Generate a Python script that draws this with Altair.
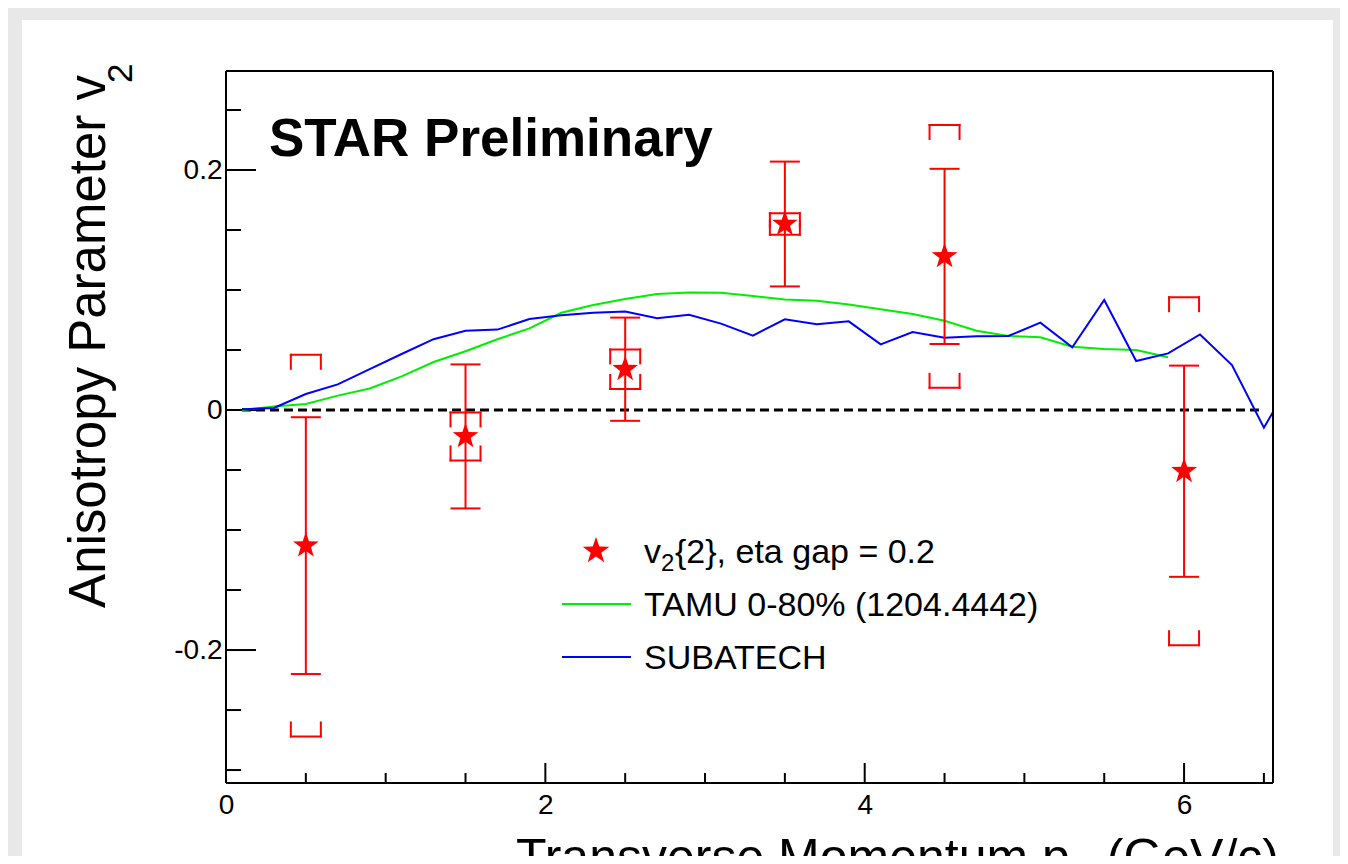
import math
import altair as alt
import pandas as pd

# ---------------- data ----------------
pt = [0.5, 1.5, 2.5, 3.5, 4.5, 6.0]
v2 = [-0.113, -0.022, 0.034, 0.155, 0.128, -0.051]
stat_err = [0.107, 0.060, 0.043, 0.052, 0.073, 0.088]
sys_err = [0.159, 0.020, 0.0165, 0.009, 0.1095, 0.145]

tamu_pt = [0.1, 0.3, 0.5, 0.7, 0.9, 1.1, 1.3, 1.5, 1.7, 1.9,
           2.1, 2.3, 2.5, 2.7, 2.9, 3.1, 3.3, 3.5, 3.7, 3.9,
           4.1, 4.3, 4.5, 4.7, 4.9, 5.1, 5.3, 5.5, 5.7, 5.9]
tamu_v2 = [0.000, 0.003, 0.005, 0.012, 0.018, 0.028, 0.040, 0.049, 0.059, 0.068,
           0.081, 0.0875, 0.0925, 0.0967, 0.098, 0.0978, 0.095, 0.092, 0.091, 0.088,
           0.084, 0.080, 0.0744, 0.066, 0.0617, 0.0606, 0.0528, 0.0508, 0.050, 0.0439]

sub_pt = [0.1, 0.3, 0.5, 0.7, 0.9, 1.1, 1.3, 1.5, 1.7, 1.9,
          2.1, 2.3, 2.5, 2.7, 2.9, 3.1, 3.3, 3.5, 3.7, 3.9,
          4.1, 4.3, 4.5, 4.7, 4.9, 5.1, 5.3, 5.5, 5.7, 5.9,
          6.1, 6.3, 6.5, 6.7]
sub_v2 = [0.0006, 0.0017, 0.0133, 0.0214, 0.034, 0.0467, 0.059, 0.066, 0.067, 0.0758,
          0.079, 0.081, 0.082, 0.0764, 0.0794, 0.072, 0.062, 0.0756, 0.0714, 0.0739,
          0.0547, 0.065, 0.0603, 0.0614, 0.0617, 0.0728, 0.0522, 0.0917, 0.0408, 0.0472,
          0.063, 0.0375, -0.0147, 0.031]

zero_line_pt = [0.1, 6.5]

x_major = [0, 2, 4, 6]
x_minor = [0.5, 1, 1.5, 2.5, 3, 3.5, 4.5, 5, 5.5, 6.5]
x_labels = ["0", "2", "4", "6"]
y_major = [-0.2, 0, 0.2]
y_minor = [-0.3, -0.25, -0.15, -0.1, -0.05, 0.05, 0.1, 0.15, 0.25]
y_labels = ["-0.2", "0", "0.2"]

x_domain = [0, 6.557]
y_domain = [-0.3108, 0.2825]

title_x_main = "Transverse Momentum p"
title_x_sub = "T"
title_x_tail = " (GeV/c)"
title_y_main = "Anisotropy Parameter v"
title_y_sub = "2"
star_label = "STAR Preliminary"
leg_data_main = "v"
leg_data_sub = "2"
leg_data_tail = "{2}, eta gap = 0.2"
leg_tamu = "TAMU 0-80% (1204.4442)"
leg_sub = "SUBATECH"

# ---------------- styling ----------------
W, H = 1047, 712
FONT = "Liberation Sans"
RED, GREEN, BLUE = "#ff0000", "#00ee00", "#0000ff"

pts = []
for k in range(10):
    r = 1.0 if k % 2 == 0 else 0.40
    a = math.radians(-90 + 36 * k)
    pts.append(f"{r * math.cos(a):.4f},{r * math.sin(a):.4f}")
STAR = "M" + " L".join(pts) + " Z"


def label_expr(vals, labels):
    e = "''"
    for v, l in zip(vals, labels):
        e = f"abs(datum.value - ({v})) < 0.000001 ? '{l}' : ({e})"
    return e


xs = alt.Scale(domain=x_domain, nice=False, zero=False)
ys = alt.Scale(domain=y_domain, nice=False, zero=False)
xaxis = alt.Axis(values=x_major, labelExpr=label_expr(x_major, x_labels), labelFontSize=28,
                 labelFont=FONT, labelColor="black", domain=False, ticks=False, tickSize=0,
                 grid=False, labelPadding=8, title=None, labelFlush=False, zindex=2)
yaxis = alt.Axis(values=y_major, labelExpr=label_expr(y_major, y_labels), labelFontSize=28,
                 labelFont=FONT, labelColor="black", domain=False, ticks=False, tickSize=0,
                 grid=False, labelPadding=4, title=None, labelFlush=False, zindex=2)


def X(f):
    return alt.X(f, type="quantitative", scale=xs, axis=xaxis)


def Y(f):
    return alt.Y(f, type="quantitative", scale=ys, axis=yaxis)


one = pd.DataFrame({"a": [0]})

meas = pd.DataFrame({"x": pt, "y": v2, "stat": stat_err, "sys": sys_err})
meas["hi_stat"] = meas["y"] + meas["stat"]
meas["lo_stat"] = meas["y"] - meas["stat"]
meas["hi_sys"] = meas["y"] + meas["sys"]
meas["lo_sys"] = meas["y"] - meas["sys"]

tamu = pd.DataFrame({"x": tamu_pt, "y": tamu_v2})
subt = pd.DataFrame({"x": sub_pt, "y": sub_v2})
zero = pd.DataFrame({"x": [zero_line_pt[0]], "x2": [zero_line_pt[1]], "y": [0.0]})

layers = []

# white panel
layers.append(alt.Chart(one).mark_rect(color="white").encode(
    x=alt.value(-204), x2=alt.value(1107), y=alt.value(-51), y2=alt.value(900)))

# ticks (inward)
layers.append(alt.Chart(pd.DataFrame({"v": y_major})).mark_rule(color="black", strokeWidth=2).encode(
    y=Y("v"), x=alt.value(0), x2=alt.value(30)))
layers.append(alt.Chart(pd.DataFrame({"v": y_minor})).mark_rule(color="black", strokeWidth=2).encode(
    y=Y("v"), x=alt.value(0), x2=alt.value(15)))
layers.append(alt.Chart(pd.DataFrame({"v": x_major})).mark_rule(color="black", strokeWidth=2).encode(
    x=X("v"), y=alt.value(H), y2=alt.value(H - 20)))
layers.append(alt.Chart(pd.DataFrame({"v": x_minor})).mark_rule(color="black", strokeWidth=2).encode(
    x=X("v"), y=alt.value(H), y2=alt.value(H - 10)))

# zero dashed line
layers.append(alt.Chart(zero).mark_rule(color="black", strokeWidth=3, strokeDash=[9, 5]).encode(
    x=X("x"), x2="x2", y=Y("y")))

# model curves
layers.append(alt.Chart(tamu).mark_line(color=GREEN, strokeWidth=2, clip=True).encode(
    x=X("x"), y=Y("y"), order="x:Q"))
layers.append(alt.Chart(subt).mark_line(color=BLUE, strokeWidth=2, clip=True).encode(
    x=X("x"), y=Y("y"), order="x:Q"))

# systematic brackets
m = alt.Chart(meas)
rk = dict(color=RED, strokeWidth=2, strokeCap="square")
for fld, leg in (("hi_sys", 14), ("lo_sys", -14)):
    layers.append(m.mark_rule(xOffset=-15, x2Offset=15, **rk).encode(x=X("x"), x2="x", y=Y(fld)))
    layers.append(m.mark_rule(xOffset=-15, y2Offset=leg, **rk).encode(x=X("x"), y=Y(fld), y2=fld))
    layers.append(m.mark_rule(xOffset=15, y2Offset=leg, **rk).encode(x=X("x"), y=Y(fld), y2=fld))

# statistical error bars
layers.append(m.mark_rule(color=RED, strokeWidth=2).encode(x=X("x"), y=Y("lo_stat"), y2="hi_stat"))
for fld in ("hi_stat", "lo_stat"):
    layers.append(m.mark_rule(xOffset=-15, x2Offset=15, color=RED, strokeWidth=2).encode(
        x=X("x"), x2="x", y=Y(fld)))

# stars
layers.append(m.mark_point(shape=STAR, filled=True, size=729, color=RED, opacity=1, strokeWidth=0).encode(
    x=X("x"), y=Y("y")))

# frame
fr = dict(color="black", strokeWidth=2)
o = alt.Chart(one)
layers.append(o.mark_rule(**fr).encode(x=alt.value(0), x2=alt.value(W), y=alt.value(0)))
layers.append(o.mark_rule(**fr).encode(x=alt.value(0), x2=alt.value(W), y=alt.value(H)))
layers.append(o.mark_rule(**fr).encode(x=alt.value(0), y=alt.value(0), y2=alt.value(H)))
layers.append(o.mark_rule(**fr).encode(x=alt.value(W), y=alt.value(0), y2=alt.value(H)))


def txt(s, x, y, size, align="left", angle=0, bold=False):
    kw = dict(font=FONT, fontSize=size, align=align, baseline="alphabetic", color="black",
              fontWeight="bold" if bold else "normal")
    if angle:
        kw["angle"] = angle
    return o.mark_text(**kw).encode(x=alt.value(x), y=alt.value(y), text=alt.value(s))


# annotations
layers.append(txt(star_label, 43, 85, 53, bold=True))
layers.append(txt(title_y_main, -121, 4, 51, align="right", angle=270))
layers.append(txt(title_y_sub, -94, 12, 35, align="left", angle=270))
layers.append(txt(title_x_main, 290, 803, 50))
layers.append(txt(title_x_sub, 846, 818, 35))
layers.append(txt(title_x_tail, 1053, 803, 50, align="right"))

# legend
layers.append(o.mark_point(shape=STAR, filled=True, size=784, color=RED, opacity=1, strokeWidth=0).encode(
    x=alt.value(370), y=alt.value(480)))
layers.append(txt(leg_data_main, 418, 492, 34))
layers.append(txt(leg_data_sub, 435, 500, 24))
layers.append(txt(leg_data_tail, 449, 492, 34))
layers.append(o.mark_rule(color=GREEN, strokeWidth=2).encode(x=alt.value(336), x2=alt.value(405), y=alt.value(533)))
layers.append(txt(leg_tamu, 418, 545, 34))
layers.append(o.mark_rule(color=BLUE, strokeWidth=2).encode(x=alt.value(336), x2=alt.value(405), y=alt.value(586)))
layers.append(txt(leg_sub, 418, 598, 34))

chart = alt.layer(*layers).properties(
    width=W, height=H,
    background="#e8e8e8",
    padding={"left": 218, "top": 63, "right": 67, "bottom": 73},
    autosize=alt.AutoSizeParams(type="none"),
).configure_view(stroke="transparent")

chart.save("out.html", embed_options={"renderer": "svg", "actions": False})
